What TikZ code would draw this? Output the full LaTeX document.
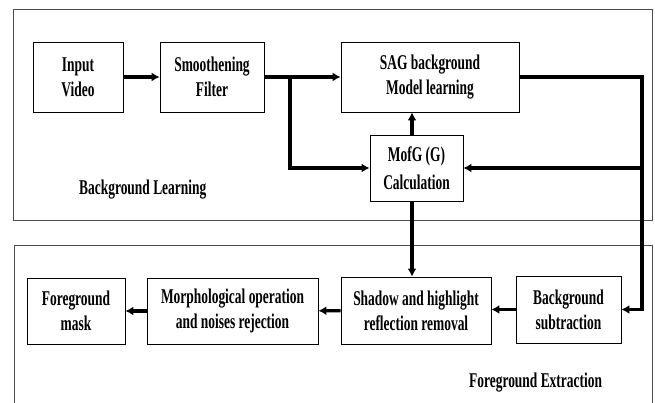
\documentclass[tikz,border=0pt]{standalone}
\usepackage{fontspec}
\setmainfont{Liberation Serif}[FakeStretch=0.64]
\usetikzlibrary{arrows.meta}

\begin{document}
\begin{tikzpicture}[x=1pt,y=-1pt,auto,
    flow/.style={draw=black,line width=3.2pt,-{Latex[length=8pt,width=9pt]}},
    frame/.style={draw=black!70,line width=1pt}]
    \useasboundingbox (0,0) rectangle (655,403);
    \fontsize{21}{25}\selectfont\bfseries
    % the two stage frames
    \draw[frame] (13,10) rectangle (652,221);
    \draw[frame] (14,403) -- (14,245) -- (652,245) -- (652,403);
    \node[anchor=west] (bglabel) at (72,190) {Background Learning};
    \node[anchor=west] (fglabel) at (462,383) {Foreground Extraction};
    \begin{scope}[every node/.style={draw=black,line width=0.8pt,align=center,inner sep=0pt}]
        \node[minimum width=90pt,minimum height=70pt] (inp) at (78,77) {Input\\Video};
        \node[minimum width=104pt,minimum height=70pt] (smooth) at (212,77) {Smoothening\\Filter};
        \node[minimum width=178pt,minimum height=70pt] (sag) at (430,77) {SAG background\\Model learning};
        \node[minimum width=93pt,minimum height=66pt] (mofg) at (416.5,168) {MofG (G)\\[3pt]Calculation};
        \node[minimum width=98pt,minimum height=66pt] (fgmask) at (76,311) {Foreground\\mask};
        \node[minimum width=171pt,minimum height=66pt] (morph) at (232.5,311) {Morphological operation\\and noises rejection};
        \node[minimum width=150pt,minimum height=67pt] (shadow) at (416,310.5) {Shadow and highlight\\reflection removal};
        \node[minimum width=105pt,minimum height=67pt] (bgsub) at (568.5,309.5) {Background\\subtraction};
    \end{scope}
    \coordinate (split) at (290,77);
    \coordinate (rturn) at (642,77);
    \coordinate (riser) at (412,0);
    \begin{scope}[every edge/.style={flow}]
        \draw (inp) edge (smooth);
        \draw (smooth) edge (sag);
        \draw (riser |- mofg.north) edge (riser |- sag.south);
        \draw (riser |- mofg.south) edge (riser |- shadow.north);
        \draw (bgsub) edge (bgsub -| shadow.east);
        \draw (shadow) edge (morph);
        \draw (morph) edge (fgmask);
        \draw (rturn |- mofg) edge (mofg);
    \end{scope}
    \draw[flow,line join=miter] (split) |- (mofg);
    \draw[flow,line join=miter] (sag) -- (rturn) |- (bgsub);
\end{tikzpicture}
\end{document}
